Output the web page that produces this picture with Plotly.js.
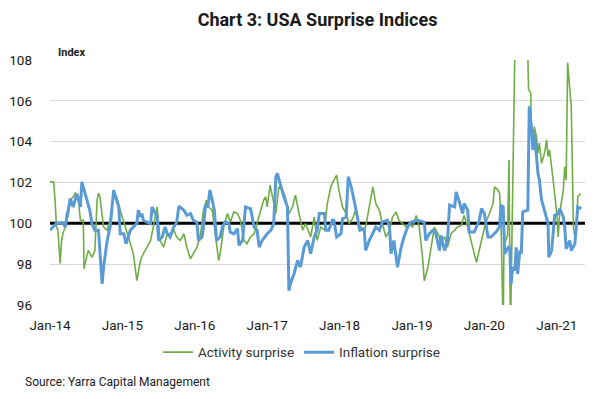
<!DOCTYPE html>
<html>
<head>
<meta charset="utf-8">
<script src="https://cdn.plot.ly/plotly-3.0.1.min.js"></script>
<style>
  html, body { margin: 0; padding: 0; background: #fff; }
  #chart { width: 601px; height: 399px; }
</style>
</head>
<body>
<div id="chart"></div>
<script>
// Activity surprise (time in decimal years, index values)
const activityX = [2014.00,2014.05,2014.07,2014.09,2014.11,2014.14,2014.16,2014.18,2014.21,2014.23,2014.25,2014.28,2014.32,2014.35,2014.39,2014.42,2014.46,2014.47,2014.51,2014.53,2014.58,2014.62,2014.65,2014.67,2014.69,2014.74,2014.79,2014.83,2014.88,2014.92,2014.97,2015.06,2015.11,2015.15,2015.20,2015.25,2015.29,2015.34,2015.39,2015.48,2015.52,2015.57,2015.62,2015.66,2015.71,2015.75,2015.80,2015.85,2015.89,2015.94,2015.98,2016.03,2016.08,2016.12,2016.16,2016.19,2016.24,2016.29,2016.33,2016.35,2016.40,2016.45,2016.49,2016.54,2016.59,2016.63,2016.68,2016.72,2016.77,2016.82,2016.86,2016.91,2016.95,2016.98,2017.00,2017.04,2017.07,2017.12,2017.16,2017.21,2017.25,2017.30,2017.35,2017.39,2017.44,2017.49,2017.53,2017.58,2017.60,2017.65,2017.69,2017.74,2017.79,2017.83,2017.88,2017.92,2017.96,2017.99,2018.04,2018.09,2018.13,2018.18,2018.22,2018.27,2018.32,2018.36,2018.41,2018.46,2018.50,2018.55,2018.59,2018.64,2018.69,2018.73,2018.78,2018.82,2018.87,2018.92,2018.96,2019.01,2019.06,2019.10,2019.15,2019.17,2019.22,2019.26,2019.31,2019.36,2019.40,2019.45,2019.49,2019.54,2019.59,2019.63,2019.68,2019.72,2019.77,2019.82,2019.86,2019.89,2019.93,2019.98,2020.02,2020.07,2020.12,2020.14,2020.19,2020.21,2020.23,2020.26,2020.27,2020.32,2020.34,2020.36,2020.38,2020.41,2020.43,2020.51,2020.59,2020.61,2020.64,2020.65,2020.67,2020.69,2020.72,2020.74,2020.76,2020.79,2020.83,2020.86,2020.88,2020.90,2020.93,2020.95,2021.00,2021.02,2021.04,2021.09,2021.11,2021.13,2021.15,2021.16,2021.18,2021.20,2021.23,2021.25,2021.27,2021.29,2021.33];
const activityY = [102.03,102.03,101.13,99.82,99.66,98.03,99.16,99.51,99.82,100.56,100.31,101.13,101.30,101.48,101.23,100.15,100.15,97.78,98.42,98.67,98.33,98.67,101.13,101.48,101.30,99.82,99.66,100.15,101.48,101.30,100.64,99.66,99.01,98.52,97.19,98.18,98.52,98.83,99.16,100.80,99.16,98.83,99.51,99.49,99.66,99.33,99.16,99.49,98.83,98.26,98.51,98.83,99.49,100.64,101.13,100.80,100.64,99.16,98.18,98.51,99.82,100.48,100.06,100.56,100.48,100.15,99.16,99.00,99.33,99.49,99.99,100.64,101.13,101.30,100.80,101.87,101.30,100.48,101.79,101.63,101.30,100.48,100.80,101.38,100.48,99.66,99.99,99.49,99.33,100.31,99.16,99.82,99.66,100.97,101.79,102.12,102.36,101.63,100.80,100.48,99.99,100.23,100.64,99.99,99.66,99.82,100.80,101.79,100.97,100.64,99.99,99.33,99.66,100.31,100.56,100.15,99.99,99.82,99.99,99.82,100.39,99.82,98.18,97.19,97.85,98.67,99.82,99.49,99.16,99.33,98.83,99.49,99.66,99.82,99.90,100.39,99.82,99.00,98.51,98.09,98.67,99.49,100.06,100.48,100.97,101.79,101.63,101.46,100.15,94.5,98.92,99.41,103.10,94.5,99.16,105.73,110.5,111.0,110.0,106.55,106.39,104.42,104.09,104.74,104.25,103.43,103.93,102.94,103.43,104.09,103.27,103.60,102.77,102.12,100.48,99.33,100.48,101.63,102.77,102.12,107.87,107.37,106.88,105.73,99.82,99.33,99.49,101.30,101.46];

// Inflation surprise
const inflationX = [2014.00,2014.05,2014.09,2014.18,2014.21,2014.28,2014.30,2014.32,2014.37,2014.42,2014.44,2014.46,2014.51,2014.55,2014.58,2014.62,2014.67,2014.69,2014.72,2014.74,2014.79,2014.83,2014.88,2014.92,2014.95,2014.97,2015.02,2015.05,2015.08,2015.11,2015.15,2015.20,2015.22,2015.25,2015.27,2015.29,2015.34,2015.39,2015.41,2015.45,2015.48,2015.50,2015.55,2015.59,2015.62,2015.66,2015.71,2015.75,2015.78,2015.85,2015.89,2015.94,2015.98,2016.03,2016.05,2016.10,2016.12,2016.15,2016.18,2016.21,2016.24,2016.27,2016.30,2016.35,2016.38,2016.42,2016.47,2016.49,2016.54,2016.59,2016.61,2016.66,2016.70,2016.77,2016.82,2016.86,2016.89,2016.93,2017.00,2017.05,2017.09,2017.12,2017.14,2017.19,2017.23,2017.28,2017.30,2017.32,2017.37,2017.42,2017.46,2017.51,2017.56,2017.60,2017.65,2017.69,2017.72,2017.79,2017.81,2017.85,2017.90,2017.92,2017.96,2018.02,2018.04,2018.09,2018.12,2018.16,2018.19,2018.22,2018.27,2018.28,2018.34,2018.36,2018.41,2018.46,2018.50,2018.55,2018.59,2018.66,2018.69,2018.71,2018.75,2018.80,2018.85,2018.89,2018.94,2018.99,2019.08,2019.17,2019.19,2019.24,2019.29,2019.33,2019.38,2019.40,2019.45,2019.49,2019.52,2019.59,2019.61,2019.66,2019.70,2019.72,2019.77,2019.79,2019.86,2019.89,2019.93,2019.96,2020.00,2020.05,2020.09,2020.16,2020.21,2020.23,2020.26,2020.28,2020.33,2020.35,2020.37,2020.39,2020.42,2020.44,2020.46,2020.49,2020.51,2020.53,2020.60,2020.62,2020.65,2020.67,2020.69,2020.72,2020.74,2020.76,2020.79,2020.83,2020.88,2020.89,2020.93,2020.97,2021.02,2021.04,2021.09,2021.11,2021.13,2021.18,2021.20,2021.25,2021.29,2021.34];
const inflationY = [99.66,99.85,100.00,100.01,99.82,101.22,100.97,100.80,101.46,100.80,102.03,101.79,101.13,100.64,99.99,99.66,99.66,98.51,97.03,97.85,99.16,99.82,101.63,101.13,100.80,99.49,99.49,99.00,99.33,99.66,99.82,99.99,100.64,100.31,100.48,100.15,100.06,99.99,100.80,100.48,100.31,99.16,99.33,99.82,99.49,99.33,99.82,100.05,100.84,100.64,100.39,100.48,100.15,100.06,99.16,99.33,99.82,100.89,100.80,101.63,101.13,100.64,99.16,99.33,99.82,100.06,99.99,99.57,99.49,99.74,98.92,99.16,100.80,100.72,99.82,99.66,98.83,99.16,99.49,99.66,99.99,102.28,102.45,101.79,101.30,100.80,96.70,97.03,97.52,98.18,97.85,98.83,99.16,98.51,99.33,99.66,100.48,100.48,99.66,99.66,100.15,100.15,99.33,99.49,100.23,100.31,102.28,101.79,101.30,100.80,99.82,99.66,99.74,98.67,99.16,99.57,99.82,99.66,100.06,100.15,99.82,98.51,99.16,97.85,98.83,99.33,99.82,100.06,100.15,100.06,99.16,99.49,99.66,99.49,98.67,99.41,98.67,99.16,100.89,100.80,101.54,100.97,100.48,100.97,100.64,99.57,99.57,99.82,100.15,100.72,100.48,99.33,99.33,99.57,99.82,100.89,100.80,98.51,98.83,98.83,97.03,97.85,97.68,98.83,97.52,98.67,98.51,100.56,100.64,105.73,104.74,103.60,104.42,103.27,102.45,102.12,101.13,100.64,99.99,98.34,98.67,100.39,100.48,100.72,100.31,99.82,98.75,99.16,98.67,99.00,100.80,100.72];

const tickYears = [2014,2015,2016,2017,2018,2019,2020,2021];
const tickLabels = ['Jan-14','Jan-15','Jan-16','Jan-17','Jan-18','Jan-19','Jan-20','Jan-21'];
const yTicks = [96,98,100,102,104,106,108];
const baseline = 100;

const FONT = 'Roboto, "Open Sans", sans-serif';

const traces = [
  {
    x: activityX, y: activityY, type: 'scatter', mode: 'lines',
    name: 'Activity surprise',
    line: {color: '#70ad47', width: 1.6}
  },
  {
    x: inflationX, y: inflationY, type: 'scatter', mode: 'lines',
    name: 'Inflation surprise',
    line: {color: '#5b9bd5', width: 3}
  }
];

const layout = {
  width: 601, height: 399,
  margin: {l: 50, r: 16, t: 60, b: 94},
  paper_bgcolor: '#ffffff', plot_bgcolor: '#ffffff',
  font: {family: FONT, size: 13, color: '#1a1a1a'},
  title: {
    text: '<b>Chart 3: USA Surprise Indices</b>',
    font: {family: FONT, size: 18, color: '#1a1a1a'},
    x: 0.5, xref: 'paper', xanchor: 'center',
    y: 0.95, yref: 'container', yanchor: 'middle'
  },
  xaxis: {
    type: 'linear',
    range: [2014, 2021.39],
    tickvals: tickYears, ticktext: tickLabels,
    showgrid: false, zeroline: false, showline: false,
    ticks: '', ticklabelstandoff: 10,
    tickfont: {family: FONT, size: 13.5, color: '#1a1a1a'}
  },
  yaxis: {
    range: [96, 108],
    tickvals: yTicks,
    showgrid: false,
    minor: {
      tickvals: yTicks.filter(v => v !== baseline),
      showgrid: true, gridcolor: '#d9d9d9', gridwidth: 1, ticks: ''
    },
    zeroline: false, showline: false,
    ticks: '', ticklabelstandoff: 17,
    tickfont: {family: FONT, size: 13.5, color: '#1a1a1a'}
  },
  shapes: [
    {type: 'line', xref: 'paper', x0: 0, x1: 1, yref: 'y', y0: baseline, y1: baseline,
     line: {color: '#000000', width: 3}, layer: 'below'}
  ],
  annotations: [
    {text: '<b>Index</b>', xref: 'paper', x: 0.012, xanchor: 'left',
     yref: 'paper', y: 1.0, yanchor: 'bottom', yshift: -1, showarrow: false,
     font: {family: FONT, size: 11, color: '#1a1a1a'}},
    {text: 'Source: Yarra Capital Management', xref: 'paper', x: -0.05, xanchor: 'left',
     yref: 'paper', y: 0, yanchor: 'top', yshift: -68, showarrow: false,
     font: {family: FONT, size: 12, color: '#1a1a1a'}}
  ],
  legend: {
    orientation: 'h', x: 0.47, xanchor: 'center', y: -0.13, yanchor: 'top',
    yref: 'paper',
    font: {family: FONT, size: 13.5, color: '#333333'},
    itemwidth: 30, tracegroupgap: 0, bgcolor: 'rgba(0,0,0,0)'
  },
  showlegend: true
};

Plotly.newPlot('chart', traces, layout, {displayModeBar: false, staticPlot: true});
</script>
</body>
</html>
